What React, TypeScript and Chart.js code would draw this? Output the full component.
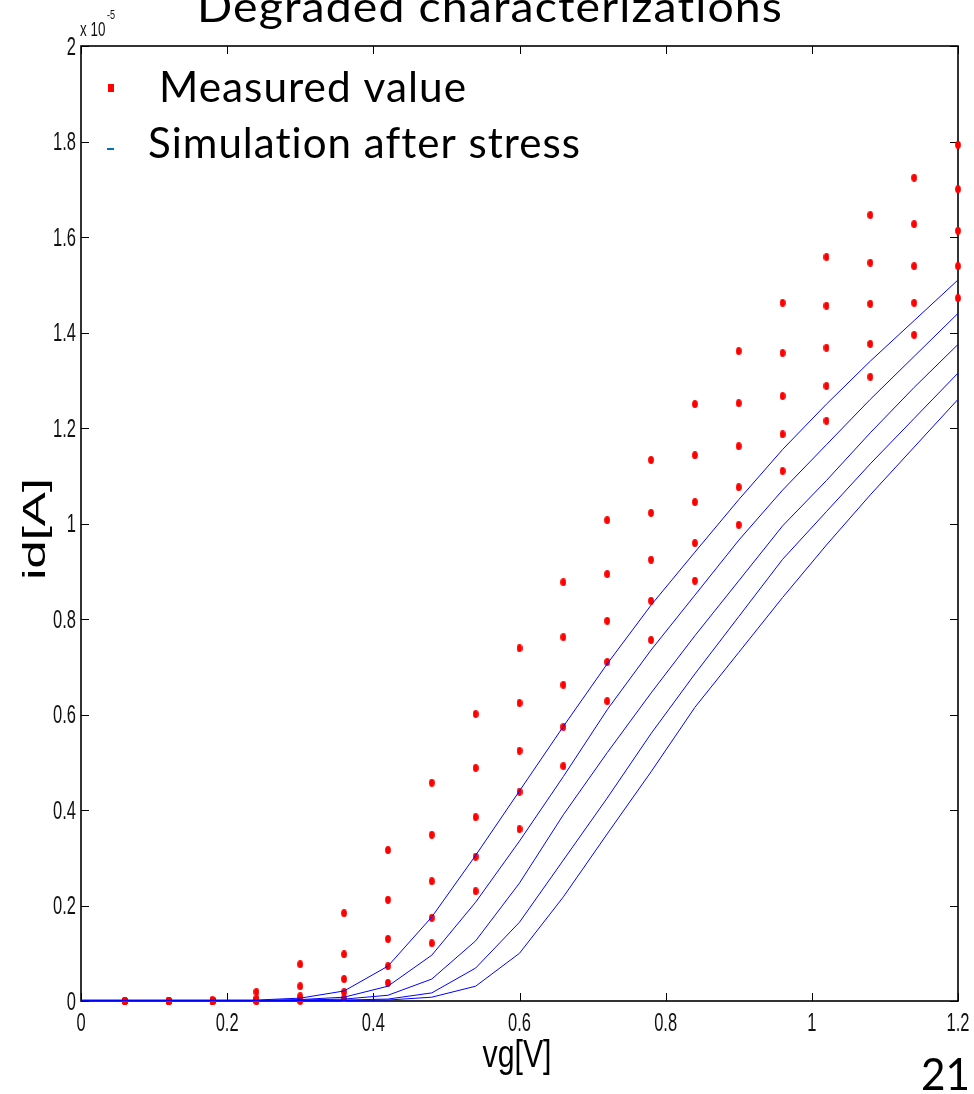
import React, { useEffect, useRef } from "react";
import { Chart, registerables } from "chart.js";

Chart.register(...registerables);

// ---- data (values in units of 1e-5 A) ----
const xMeasured = [0.06, 0.12, 0.18, 0.24, 0.3, 0.36, 0.42, 0.48, 0.54, 0.6, 0.66, 0.72, 0.78, 0.84, 0.9, 0.96, 1.02, 1.08, 1.14, 1.2];
const measured1 = [0, 0, 0.002, 0.019, 0.077, 0.184, 0.316, 0.457, 0.601, 0.739, 0.877, 1.007, 1.133, 1.25, 1.361, 1.462, 1.558, 1.646, 1.724, 1.793];
const measured2 = [0, 0, 0.001, 0.005, 0.031, 0.098, 0.212, 0.348, 0.488, 0.624, 0.762, 0.894, 1.022, 1.143, 1.252, 1.357, 1.456, 1.546, 1.627, 1.7];
const measured3 = [0, 0, 0, 0.002, 0.01, 0.046, 0.13, 0.251, 0.385, 0.524, 0.662, 0.796, 0.924, 1.045, 1.162, 1.267, 1.368, 1.46, 1.539, 1.613];
const measured4 = [0, 0, 0, 0.001, 0.002, 0.019, 0.073, 0.174, 0.302, 0.438, 0.574, 0.71, 0.838, 0.959, 1.076, 1.187, 1.288, 1.376, 1.462, 1.539];
const measured5 = [0, 0, 0, 0, 0, 0.006, 0.038, 0.121, 0.23, 0.36, 0.492, 0.628, 0.756, 0.88, 0.997, 1.11, 1.215, 1.307, 1.395, 1.472];

const xSim = [0, 0.06, 0.12, 0.18, 0.24, 0.3, 0.36, 0.42, 0.48, 0.54, 0.6, 0.66, 0.72, 0.78, 0.84, 0.9, 0.96, 1.02, 1.08, 1.14, 1.2];
const sim1 = [0.002, 0.002, 0.002, 0.002, 0.002, 0.006, 0.021, 0.073, 0.176, 0.305, 0.44, 0.575, 0.706, 0.829, 0.94, 1.05, 1.155, 1.25, 1.34, 1.425, 1.51];
const sim2 = [0.001, 0.001, 0.001, 0.001, 0.001, 0.003, 0.008, 0.031, 0.096, 0.207, 0.335, 0.47, 0.61, 0.735, 0.85, 0.965, 1.07, 1.165, 1.26, 1.35, 1.44];
const sim3 = [0.001, 0.001, 0.001, 0.001, 0.001, 0.002, 0.004, 0.012, 0.046, 0.126, 0.247, 0.39, 0.52, 0.645, 0.765, 0.88, 0.995, 1.09, 1.19, 1.285, 1.375];
const sim4 = [0.001, 0.001, 0.001, 0.001, 0.001, 0.001, 0.002, 0.004, 0.017, 0.069, 0.165, 0.295, 0.425, 0.56, 0.685, 0.805, 0.925, 1.025, 1.125, 1.22, 1.315];
const sim5 = [0.001, 0.001, 0.001, 0.001, 0.001, 0.001, 0.001, 0.002, 0.008, 0.031, 0.1, 0.218, 0.35, 0.48, 0.615, 0.73, 0.845, 0.955, 1.06, 1.16, 1.26];

const xTicks = [0, 0.2, 0.4, 0.6, 0.8, 1, 1.2];
const xTickLabels = ["0", "0.2", "0.4", "0.6", "0.8", "1", "1.2"];
const yTicks = [0, 0.2, 0.4, 0.6, 0.8, 1, 1.2, 1.4, 1.6, 1.8, 2];
const yTickLabels = ["0", "0.2", "0.4", "0.6", "0.8", "1", "1.2", "1.4", "1.6", "1.8", "2"];

const titleText = "Degraded characterizations";
const legendMeasured = "Measured value";
const legendSim = "Simulation after stress";
const xTitle = "vg[V]";
const yTitle = "id[A]";
const pageNumber = "21";

const measuredSeries = [measured1, measured2, measured3, measured4, measured5];
const simSeries = [sim1, sim2, sim3, sim4, sim5];

const SANS = '"Liberation Sans", Arial, sans-serif';
const HUMAN = 'Lato, "Open Sans", sans-serif';

function makeDot(): HTMLCanvasElement {
  const c = document.createElement("canvas");
  c.width = 6;
  c.height = 8;
  const g = c.getContext("2d")!;
  g.fillStyle = "#ff0000";
  g.beginPath();
  g.ellipse(3, 4, 2.9, 3.9, 0, 0, Math.PI * 2);
  g.fill();
  return c;
}

function fitText(ctx: any, text: string, x: number, y: number, w: number, font: string, align: string, spacing = "0px") {
  ctx.save();
  ctx.font = font;
  ctx.letterSpacing = spacing;
  const m = ctx.measureText(text).width;
  const s = w / m;
  ctx.translate(x, y);
  ctx.scale(s, 1);
  ctx.textAlign = "left";
  ctx.textBaseline = "alphabetic";
  const off = align === "center" ? -m / 2 : align === "right" ? -m : 0;
  ctx.fillText(text, off, 0);
  ctx.restore();
}

function narrowText(ctx: any, text: string, x: number, y: number, size: number, sx: number, align: string) {
  ctx.save();
  ctx.font = `${size}px ${SANS}`;
  const m = ctx.measureText(text).width;
  ctx.translate(x, y);
  ctx.scale(sx, 1);
  ctx.textAlign = "left";
  ctx.textBaseline = "alphabetic";
  const off = align === "center" ? -m / 2 : align === "right" ? -m : 0;
  ctx.fillText(text, off, 0);
  ctx.restore();
}

const framePlugin = {
  id: "matlabFrame",
  beforeDatasetsDraw(chart: any) {
    const { ctx, chartArea } = chart;
    const xs = chart.scales.x;
    const ys = chart.scales.y;
    const { left, right, top, bottom } = chartArea;
    ctx.save();
    ctx.strokeStyle = "#000";
    ctx.lineWidth = 1.6;
    ctx.strokeRect(left, top, right - left, bottom - top);
    ctx.lineWidth = 1;
    const tl = 8;
    ctx.beginPath();
    xTicks.forEach((v) => {
      const px = Math.round(xs.getPixelForValue(v)) + 0.5;
      ctx.moveTo(px, bottom);
      ctx.lineTo(px, bottom - tl);
      ctx.moveTo(px, top);
      ctx.lineTo(px, top + tl);
    });
    yTicks.forEach((v) => {
      const py = Math.round(ys.getPixelForValue(v)) + 0.5;
      ctx.moveTo(left, py);
      ctx.lineTo(left + tl, py);
      ctx.moveTo(right, py);
      ctx.lineTo(right - tl, py);
    });
    ctx.stroke();
    ctx.restore();
  },
  afterDraw(chart: any) {
    const { ctx, chartArea } = chart;
    const xs = chart.scales.x;
    const ys = chart.scales.y;
    ctx.save();
    ctx.fillStyle = "#111";
    xTicks.forEach((v, i) => {
      narrowText(ctx, xTickLabels[i], xs.getPixelForValue(v), chartArea.bottom + 30, 25, 0.66, "center");
    });
    yTicks.forEach((v, i) => {
      narrowText(ctx, yTickLabels[i], chartArea.left - 5, ys.getPixelForValue(v) + 8.5, 25, 0.66, "right");
    });
    narrowText(ctx, "x 10", 80, 36, 20, 0.67, "left");
    narrowText(ctx, "-5", 107, 19, 13, 0.7, "left");
    ctx.fillStyle = "#000";
    fitText(ctx, titleText, 197, 22, 586, `42px ${HUMAN}`, "left", "1px");
    ctx.fillStyle = "#ff0000";
    ctx.fillRect(108, 84, 6, 8);
    ctx.fillStyle = "#0070c0";
    ctx.fillRect(107, 148, 7, 2);
    ctx.fillStyle = "#000";
    fitText(ctx, legendMeasured, 159, 102, 308, `42px ${HUMAN}`, "left", "1px");
    fitText(ctx, legendSim, 148, 158, 433, `42px ${HUMAN}`, "left", "1px");
    fitText(ctx, xTitle, 517, 1067, 69, `39px ${SANS}`, "center");
    ctx.save();
    ctx.translate(45, 529);
    ctx.rotate(-Math.PI / 2);
    fitText(ctx, yTitle, 0, 0, 102, `31px ${SANS}`, "center");
    ctx.restore();
    fitText(ctx, pageNumber, 921, 1090, 49, `45px ${HUMAN}`, "left");
    ctx.restore();
  },
};

export default function App() {
  const ref = useRef<HTMLCanvasElement>(null);
  useEffect(() => {
    if (!ref.current) return;
    const dot = makeDot();
    const datasets: any[] = [];
    simSeries.forEach((s, k) => {
      datasets.push({
        label: "Simulation " + (k + 1),
        data: xSim.map((x, i) => ({ x, y: s[i] })),
        showLine: true,
        borderColor: "#0000ff",
        borderWidth: 1,
        pointRadius: 0,
        tension: 0,
        clip: false,
      });
    });
    measuredSeries.forEach((s, k) => {
      datasets.push({
        label: "Measured " + (k + 1),
        data: xMeasured.map((x, i) => ({ x, y: s[i] })),
        showLine: false,
        pointStyle: dot,
        pointRadius: 3,
        backgroundColor: "#ff0000",
        borderColor: "#ff0000",
        clip: false,
      });
    });
    const chart = new Chart(ref.current, {
      type: "scatter",
      data: { datasets },
      options: {
        responsive: false,
        animation: false,
        devicePixelRatio: 1,
        layout: { padding: { left: 81, top: 46, right: 16, bottom: 93 } },
        scales: {
          x: { type: "linear", min: 0, max: 1.2, display: false },
          y: { type: "linear", min: 0, max: 2, display: false },
        },
        plugins: { legend: { display: false }, tooltip: { enabled: false } },
      },
      plugins: [framePlugin],
    } as any);
    return () => chart.destroy();
  }, []);
  return (
    <div style={{ position: "absolute", left: 0, top: 0, width: 974, height: 1094, background: "#fff" }}>
      <canvas ref={ref} width={974} height={1094} style={{ display: "block" }} />
    </div>
  );
}
